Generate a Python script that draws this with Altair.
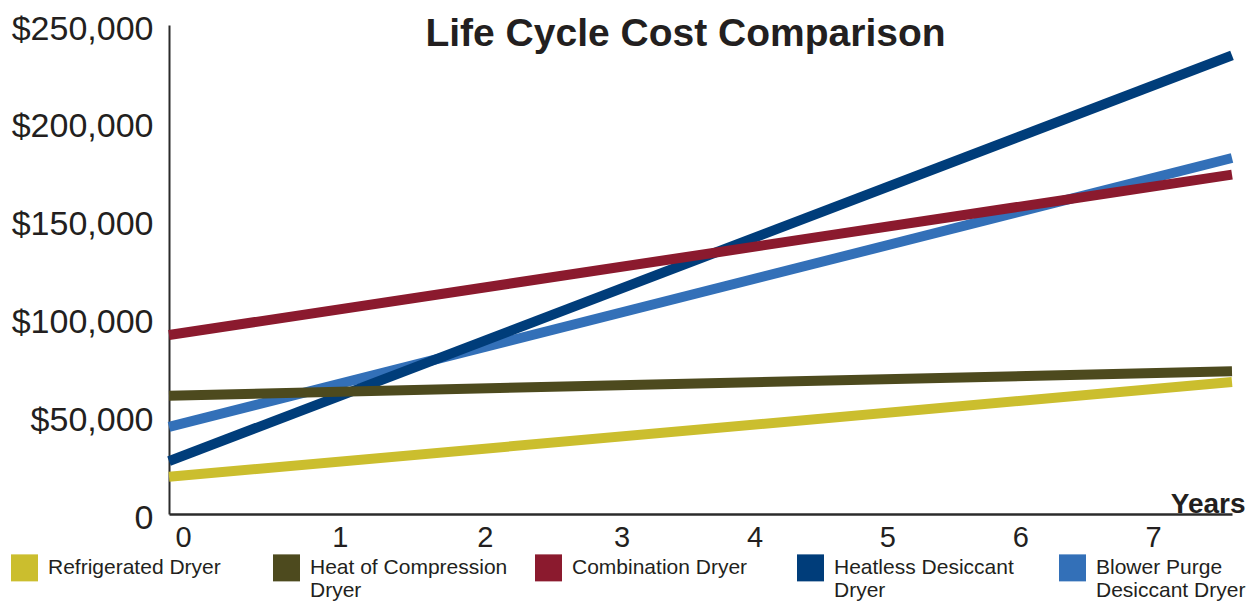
import altair as alt
import pandas as pd

# ---- data ----
series = [
    "Refrigerated Dryer",
    "Heat of Compression Dryer",
    "Combination Dryer",
    "Heatless Desiccant Dryer",
    "Blower Purge Desiccant Dryer",
]
colors = ["#CBBE2E", "#4D4A1E", "#8B1A2E", "#003D7A", "#3370B8"]
years = [0, 8]
refrigerated = [19000, 67500]
heat_of_compression = [60500, 73000]
combination = [91500, 173500]
heatless = [27000, 234500]
blower_purge = [44500, 182000]
draw_rank = [3, 4, 5, 2, 1]  # stacking order of the lines
year_labels = [0, 1, 2, 3, 4, 5, 6, 7]
cost_ticks = [0, 50000, 100000, 150000, 200000, 250000]

rows = []
for name, vals, rank in zip(
    series,
    [refrigerated, heat_of_compression, combination, heatless, blower_purge],
    draw_rank,
):
    for yr, v in zip(years, vals):
        rows.append({"Dryer": name, "Year": yr, "Cost": v, "rank": rank})
df = pd.DataFrame(rows).sort_values(["rank", "Year"])

FONT = "Liberation Sans"
TXT = "#231F20"

label_expr = (
    "datum.label == 'Heat of Compression Dryer' ? ['Heat of Compression', 'Dryer'] : "
    "datum.label == 'Heatless Desiccant Dryer' ? ['Heatless Desiccant', 'Dryer'] : "
    "datum.label == 'Blower Purge Desiccant Dryer' ? ['Blower Purge', 'Desiccant Dryer'] : "
    "[datum.label, '']"
)

x_label_offset = {
    "condition": [
        {"test": "datum.value == 0", "value": 14},
        {"test": "datum.value == 1", "value": 38},
        {"test": "datum.value == 2", "value": 50},
    ],
    "value": 54,
}

chart = (
    alt.Chart(df)
    .mark_line(strokeWidth=10, strokeCap="butt")
    .encode(
        x=alt.X(
            "Year:Q",
            scale=alt.Scale(domain=[0, 8], nice=False, zero=False),
            axis=alt.Axis(
                values=year_labels,
                title="Years",
                titleFont=FONT,
                titleFontSize=28,
                titleFontWeight="bold",
                titleColor=TXT,
                titleX=1076,
                titleY=-2,
                titleAlign="right",
                titleBaseline="alphabetic",
                titleAnchor="end",
                labelFont=FONT,
                labelFontSize=29,
                labelColor=TXT,
                labelPadding=9,
                labelBaseline="top",
                labelOffset=x_label_offset,
                labelFlush=False,
                labelOverlap=False,
                ticks=False,
                grid=False,
                domainColor="#2B2B2B",
                domainWidth=2.5,
            ),
        ),
        y=alt.Y(
            "Cost:Q",
            scale=alt.Scale(domain=[0, 250000], nice=False),
            axis=alt.Axis(
                values=cost_ticks,
                labelExpr="datum.value == 0 ? '0' : '$' + format(datum.value, ',')",
                title=None,
                labelFont=FONT,
                labelFontSize=34,
                labelColor=TXT,
                labelPadding=16,
                labelOffset=4,
                labelFlush=False,
                labelOverlap=False,
                ticks=False,
                grid=False,
                domainColor="#2B2B2B",
                domainWidth=2,
            ),
        ),
        color=alt.Color(
            "Dryer:N",
            scale=alt.Scale(domain=series, range=colors),
            legend=alt.Legend(
                title=None,
                orient="none",
                legendX=-165,
                legendY=522,
                direction="horizontal",
                columns=5,
                gridAlign="all",
                columnPadding=6,
                symbolType="M-0.5,-0.5H0.5V0.5H-0.5Z",
                symbolSize=729,
                symbolStrokeWidth=13.5,
                symbolOpacity=1,
                labelFont=FONT,
                labelFontSize=21,
                labelColor=TXT,
                labelOffset=3,
                labelLimit=400,
                labelExpr=label_expr,
            ),
        ),
        order=alt.Order("rank:Q"),
    )
    .properties(
        width=1063,
        height=489,
        background="white",
        autosize=alt.AutoSizeParams(type="none"),
        padding={"left": 161, "top": 17, "right": 15, "bottom": 99},
        title=alt.TitleParams(
            "Life Cycle Cost Comparison",
            font=FONT,
            fontSize=39,
            fontWeight="bold",
            color=TXT,
            anchor="middle",
            frame="group",
            baseline="alphabetic",
            offset=-73,
            dx=-15,
        ),
    )
    .configure_view(strokeWidth=0, stroke="transparent")
)

chart.save("out.html", embed_options={"renderer": "svg", "actions": False})
